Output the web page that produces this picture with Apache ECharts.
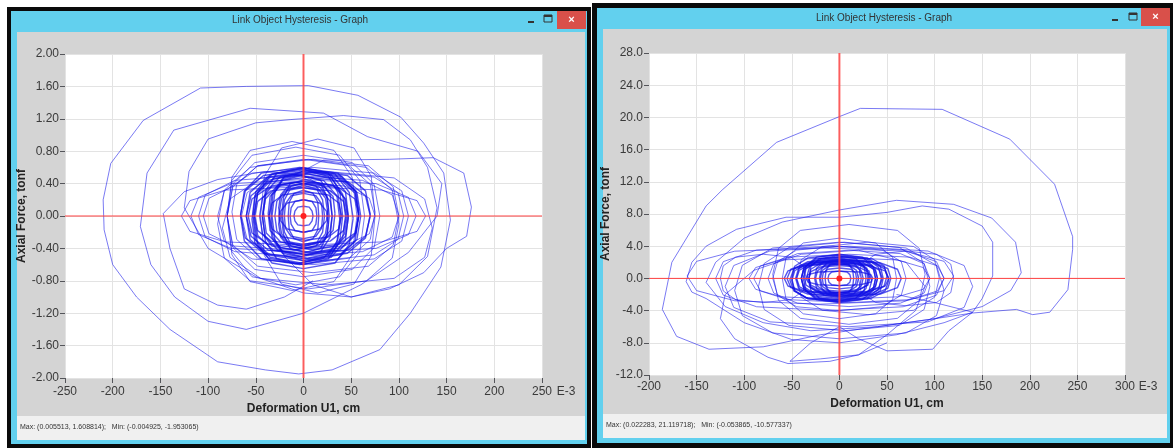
<!DOCTYPE html>
<html><head><meta charset="utf-8">
<script src="https://cdn.jsdelivr.net/npm/echarts@6/dist/echarts.min.js"></script>
<style>html,body{margin:0;padding:0;background:#fff}#c{width:1173px;height:448px}</style>
</head><body><div id="c"></div><script>
// ---------- texts ----------
const windowTitle = 'Link Object Hysteresis - Graph';
const xName = 'Deformation U1, cm';
const yName = 'Axial Force, tonf';
const xExponent = 'E-3';
const leftStatus = 'Max: (0.005513, 1.608814);   Min: (-0.004925, -1.953065)';
const rightStatus = 'Max: (0.022283, 21.119718);   Min: (-0.053865, -10.577337)';
// ---------- axis ranges [min, max, interval] ----------
const leftXRange = [-250, 250, 50];
const leftYRange = [-2, 2, 0.4];
const rightXRange = [-200, 300, 50];
const rightYRange = [-12, 28, 4];
// ---------- left chart data (x in E-3 cm, y in tonf) ----------
const leftOuterLoops = [
 [[5,1.61],[-60,1.6],[-108,1.58],[-168,1.18],[-202,0.65],[-210,0.2],[-209,-0.17],[-200,-0.6],[-175,-1.0],[-140,-1.4],[-90,-1.8],[-40,-1.9],[-5,-1.95],[30,-1.9],[80,-1.65],[112,-1.2],[144,-0.63],[154,-0.05],[147,0.53],[126,0.9],[102,1.22],[57,1.49],[5,1.61]],
 [[-56,1.33],[-136,1.06],[-164,0.53],[-171,-0.13],[-160,-0.6],[-135,-1.0],[-100,-1.3],[-60,-1.4],[0,-1.2],[60,-0.85],[110,-0.45],[140,0.0],[145,0.4],[120,0.8],[67,0.98],[21,1.27],[-56,1.33]],
 [[-100,0.95],[-50,1.15],[-14,1.19],[42,1.24],[84,1.19],[112,0.94],[130,0.6],[140,0.1],[130,-0.5],[100,-0.85],[50,-1.0],[0,-0.95],[-50,-0.75],[-100,-0.4],[-125,0.1],[-120,0.55],[-100,0.95]],
 [[10,-0.8],[-20,-1.0],[-60,-1.15],[-90,-1.1],[-125,-0.9],[-140,-0.4],[-147,0.03],[-125,0.3],[-90,0.45],[-40,0.55],[0,0.5],[30,0.3]],
 [[-20,-0.5],[10,-0.85],[50,-1.0],[90,-0.9],[126,-0.7],[150,-0.4],[171,-0.25],[176,0.11],[168,0.53],[136,0.72],[90,0.7],[21,0.69],[-10,0.5]]
];
const leftMidLoops = [
 [[80,0],[74,.39],[51,.66],[0,.75],[-51,.66],[-74,.39],[-80,0],[-74,-.39],[-51,-.66],[0,-.75],[51,-.66],[74,-.39],[80,0]],
 [[100,0],[94,.36],[68,.62],[10,.7],[-48,.62],[-74,.36],[-80,0],[-74,-.36],[-48,-.62],[10,-.7],[68,-.62],[94,-.36],[100,0]],
 [[64,0],[59,.44],[38,.75],[-8,.85],[-54,.75],[-75,.44],[-80,0],[-75,-.44],[-54,-.75],[-8,-.85],[38,-.75],[59,-.44],[64,0]],
 [[110,0],[103,.31],[74,.53],[10,.6],[-54,.53],[-83,.31],[-90,0],[-83,-.31],[-54,-.53],[10,-.6],[74,-.53],[103,-.31],[110,0]],
 [[118,0],[110,.23],[76,.40],[0,.45],[-76,.40],[-110,.23],[-118,0],[-110,-.23],[-76,-.40],[0,-.45],[76,-.40],[110,-.23],[118,0]],
 [[56,0],[51,.48],[32,.81],[-12,.92],[-56,.81],[-75,.48],[-80,0],[-75,-.48],[-56,-.81],[-12,-.92],[32,-.81],[51,-.48],[56,0]],
 [[100,-.1],[93,.32],[66,.60],[5,.70],[-56,.60],[-83,.32],[-90,-.1],[-83,-.52],[-56,-.80],[5,-.90],[66,-.80],[93,-.52],[100,-.1]],
 [[105,0],[99,.29],[74,.48],[20,.55],[-34,.48],[-59,.29],[-65,0],[-59,-.29],[-34,-.48],[20,-.55],[74,-.48],[99,-.29],[105,0]],
 [[128,0],[119,.19],[82,.32],[0,.36],[-82,.32],[-119,.19],[-128,0],[-119,-.19],[-82,-.32],[0,-.36],[82,-.32],[119,-.19],[128,0]],
 [[100,0],[93,.26],[62,.44],[-5,.5],[-72,.44],[-103,.26],[-110,0],[-103,-.26],[-72,-.44],[-5,-.5],[62,-.44],[93,-.26],[100,0]],
 [[75,0],[71,.49],[53,.84],[15,.95],[-23,.84],[-41,.49],[-45,0],[-41,-.49],[-23,-.84],[15,-.95],[53,-.84],[71,-.49],[75,0]],
 [[135,-.15],[127,.21],[95,.47],[25,.55],[-45,.47],[-77,.21],[-85,-.15],[-77,-.51],[-45,-.77],[25,-.85],[95,-.77],[127,-.51],[135,-.15]],
 [[75,0],[69,.22],[43,.37],[-15,.42],[-73,.37],[-99,.22],[-105,0],[-99,-.22],[-73,-.37],[-15,-.42],[43,-.37],[69,-.22],[75,0]],
 [[75,.05],[70,.39],[48,.62],[0,.70],[-48,.62],[-70,.39],[-75,.05],[-70,-.29],[-48,-.52],[0,-.60],[48,-.52],[70,-.29],[75,.05]]
];
const leftCoreLoops = [
 [[60,0],[56,.29],[38,.48],[0,.55],[-38,.48],[-56,.29],[-60,0],[-56,-.29],[-38,-.48],[0,-.55],[38,-.48],[56,-.29],[60,0]],
 [[58,.02],[54,.28],[38,.46],[3,.52],[-32,.46],[-48,.28],[-52,.02],[-48,-.24],[-32,-.42],[3,-.48],[38,-.42],[54,-.24],[58,.02]],
 [[47,0],[44,.30],[29,.51],[-3,.58],[-35,.51],[-50,.30],[-53,0],[-50,-.30],[-35,-.51],[-3,-.58],[29,-.51],[44,-.30],[47,0]],
 [[47,-.02],[44,.21],[31,.38],[2,.43],[-27,.38],[-40,.21],[-43,-.02],[-40,-.25],[-27,-.42],[2,-.47],[31,-.42],[44,-.25],[47,-.02]],
 [[44,0],[41,.27],[30,.46],[4,.52],[-22,.46],[-33,.27],[-36,0],[-33,-.27],[-22,-.46],[4,-.52],[30,-.46],[41,-.27],[44,0]],
 [[33,.03],[31,.24],[20,.38],[-2,.43],[-24,.38],[-35,.24],[-37,.03],[-35,-.18],[-24,-.32],[-2,-.37],[20,-.32],[31,-.18],[33,.03]],
 [[30,0],[28,.18],[19,.31],[0,.35],[-19,.31],[-28,.18],[-30,0],[-28,-.18],[-19,-.31],[0,-.35],[19,-.31],[28,-.18],[30,0]],
 [[27,0],[25,.23],[18,.40],[2,.45],[-14,.40],[-21,.23],[-23,0],[-21,-.23],[-14,-.40],[2,-.45],[18,-.40],[25,-.23],[27,0]],
 [[20,0],[19,.15],[13,.25],[0,.28],[-13,.25],[-19,.15],[-20,0],[-19,-.15],[-13,-.25],[0,-.28],[13,-.25],[19,-.15],[20,0]],
 [[14,0],[13,.10],[9,.18],[0,.2],[-9,.18],[-13,.10],[-14,0],[-13,-.10],[-9,-.18],[0,-.2],[9,-.18],[13,-.10],[14,0]],
 [[70,0],[65,.25],[47,.42],[5,.48],[-37,.42],[-55,.25],[-60,0],[-55,-.25],[-37,-.42],[5,-.48],[47,-.42],[65,-.25],[70,0]],
 [[58,0],[54,.31],[36,.53],[-4,.6],[-44,.53],[-62,.31],[-66,0],[-62,-.31],[-44,-.53],[-4,-.6],[36,-.53],[54,-.31],[58,0]],
 [[52,-.03],[48,.29],[33,.52],[0,.59],[-33,.52],[-48,.29],[-52,-.03],[-48,-.35],[-33,-.58],[0,-.65],[33,-.58],[48,-.35],[52,-.03]],
 [[41,0],[38,.31],[26,.53],[-1,.6],[-28,.53],[-40,.31],[-43,0],[-40,-.31],[-28,-.53],[-1,-.6],[26,-.53],[38,-.31],[41,0]],
 [[39,0],[36,.29],[26,.49],[3,.56],[-20,.49],[-30,.29],[-33,0],[-30,-.29],[-20,-.49],[3,-.56],[26,-.49],[36,-.29],[39,0]],
 [[58,0],[54,.21],[37,.35],[0,.4],[-37,.35],[-54,.21],[-58,0],[-54,-.21],[-37,-.35],[0,-.4],[37,-.35],[54,-.21],[58,0]],
 [[45,0],[42,.18],[28,.31],[-3,.35],[-34,.31],[-48,.18],[-51,0],[-48,-.18],[-34,-.31],[-3,-.35],[28,-.31],[42,-.18],[45,0]],
 [[30,0],[28,.26],[18,.44],[-2,.5],[-22,.44],[-32,.26],[-34,0],[-32,-.26],[-22,-.44],[-2,-.5],[18,-.44],[28,-.26],[30,0]],
 [[22,0],[20,.2],[14,.33],[0,.38],[-14,.33],[-20,.2],[-22,0],[-20,-.2],[-14,-.33],[0,-.38],[14,-.33],[20,-.2],[22,0]],
 [[70,.02],[65,.31],[46,.50],[2,.57],[-42,.50],[-61,.31],[-66,.02],[-61,-.27],[-42,-.46],[2,-.53],[46,-.46],[65,-.27],[70,.02]],
 [[10,0],[9,.06],[6,.11],[0,.12],[-6,.11],[-9,.06],[-10,0],[-9,-.06],[-6,-.11],[0,-.12],[6,-.11],[9,-.06],[10,0]],
 [[40,0],[37,.16],[26,.26],[2,.3],[-22,.26],[-33,.16],[-36,0],[-33,-.16],[-22,-.26],[2,-.3],[26,-.26],[37,-.16],[40,0]],
 [[58,.05],[55,.31],[40,.49],[8,.55],[-24,.49],[-39,.31],[-42,.05],[-39,-.21],[-24,-.39],[8,-.45],[40,-.39],[55,-.21],[58,.05]],
 [[38,-.04],[35,.25],[21,.44],[-8,.51],[-37,.44],[-51,.25],[-54,-.04],[-51,-.33],[-37,-.52],[-8,-.59],[21,-.52],[35,-.33],[38,-.04]],
 [[46,0],[43,.22],[33,.37],[10,.42],[-13,.37],[-23,.22],[-26,0],[-23,-.22],[-13,-.37],[10,-.42],[33,-.37],[43,-.22],[46,0]],
 [[26,0],[23,.22],[13,.37],[-10,.42],[-33,.37],[-43,.22],[-46,0],[-43,-.22],[-33,-.37],[-10,-.42],[13,-.37],[23,-.22],[26,0]],
 [[26,.1],[24,.26],[17,.36],[0,.4],[-17,.36],[-24,.26],[-26,.1],[-24,-.06],[-17,-.16],[0,-.2],[17,-.16],[24,-.06],[26,.1]],
 [[26,-.1],[24,.06],[17,.16],[0,.2],[-17,.16],[-24,.06],[-26,-.1],[-24,-.26],[-17,-.36],[0,-.4],[17,-.36],[24,-.26],[26,-.1]],
 [[16,0],[15,.17],[10,.28],[0,.32],[-10,.28],[-15,.17],[-16,0],[-15,-.17],[-10,-.28],[0,-.32],[10,-.28],[15,-.17],[16,0]]
];
// ---------- right chart data (x in E-3 cm, y in tonf) ----------
const rightOuterLoops = [
 [[-186,-3.85],[-176,2.0],[-140,9.0],[-123,11.0],[-66,16.9],[0,20.1],[22,21.12],[108,21.0],[179,17.3],[226,11.7],[245,5.2],[245,3.6],[240,-1.4],[221,-4.2],[203,-4.5],[186,-3.85],[140,-4.3],[95,-5.1],[40,-6.0],[-20,-7.0],[-80,-8.5],[-137,-8.8],[-171,-7.2],[-186,-3.85]],
 [[-140,4.0],[-108,6.1],[-56,7.6],[0,7.6],[50,8.2],[87,9.0],[115,8.6],[150,6.5],[161,4.5],[161,0.3],[150,-2.5],[140,-4.2],[110,-5.5],[60,-7.0],[0,-8.0],[-50,-7.6],[-100,-5.5],[-140,-2.5],[-155,-1.7],[-161,-0.4],[-155,2.0],[-140,4.0]],
 [[191,0.7],[185,4.5],[160,7.5],[120,9.2],[60,9.7],[0,8.5],[-60,7.0],[-100,5.0],[-130,2.0],[-140,-0.5],[-120,-3.5],[-80,-5.5],[-30,-6.5],[40,-6.0],[100,-5.0],[150,-3.5],[180,-1.5],[191,0.7]],
 [[60,-2],[100,-3],[140,-4.2],[115,-6.5],[98,-8.8],[50,-9.0],[20,-7.5],[0,-6.0],[-30,-8.0],[-52,-10.3],[-20,-10.0],[20,-9.5],[50,-8]],
 [[-54,-10.58],[-75,-9.8],[-110,-7.5],[-125,-5],[-120,-2],[-90,1],[-40,3],[20,3.5],[70,2],[90,-1],[80,-4],[50,-7],[20,-9.5],[-10,-10.3],[-54,-10.58]]
];
const rightMidLoops = [
 [[70,0],[65,2.08],[45,3.52],[0,4],[-45,3.52],[-65,2.08],[-70,0],[-65,-2.08],[-45,-3.52],[0,-4],[45,-3.52],[65,-2.08],[70,0]],
 [[95,0],[89,1.82],[64,3.08],[10,3.5],[-44,3.08],[-69,1.82],[-75,0],[-69,-1.82],[-44,-3.08],[10,-3.5],[64,-3.08],[89,-1.82],[95,0]],
 [[110,0],[103,1.56],[74,2.64],[10,3],[-54,2.64],[-83,1.56],[-90,0],[-83,-1.56],[-54,-2.64],[10,-3],[74,-2.64],[103,-1.56],[110,0]],
 [[60,0],[56,2.6],[38,4.4],[0,5],[-38,4.4],[-56,2.6],[-60,0],[-56,-2.6],[-38,-4.4],[0,-5],[38,-4.4],[56,-2.6],[60,0]],
 [[110,0],[102,2.08],[67,3.52],[-10,4],[-87,3.52],[-122,2.08],[-130,0],[-122,-2.08],[-87,-3.52],[-10,-4],[67,-3.52],[102,-2.08],[110,0]],
 [[95,-1],[89,1.86],[63,3.84],[5,4.5],[-53,3.84],[-79,1.86],[-85,-1],[-79,-3.86],[-53,-5.84],[5,-6.5],[63,-5.84],[89,-3.86],[95,-1]],
 [[110,-1.5],[102,1.62],[70,3.78],[0,4.5],[-70,3.78],[-102,1.62],[-110,-1.5],[-102,-4.62],[-70,-6.78],[0,-7.5],[70,-6.78],[102,-4.62],[110,-1.5]],
 [[105,0],[100,2.34],[78,3.96],[30,4.5],[-18,3.96],[-40,2.34],[-45,0],[-40,-2.34],[-18,-3.96],[30,-4.5],[78,-3.96],[100,-2.34],[105,0]],
 [[120,.3],[110,2.12],[70,3.38],[-20,3.8],[-110,3.38],[-150,2.12],[-160,.3],[-150,-1.52],[-110,-2.78],[-20,-3.2],[70,-2.78],[110,-1.52],[120,.3]],
 [[140,-1],[131,1.6],[93,3.4],[10,4],[-73,3.4],[-111,1.6],[-120,-1],[-111,-3.6],[-73,-5.4],[10,-6],[93,-5.4],[131,-3.6],[140,-1]],
 [[120,0],[117,1.77],[102,2.99],[70,3.4],[38,2.99],[23,1.77],[20,0],[23,-1.77],[38,-2.99],[70,-3.4],[102,-2.99],[117,-1.77],[120,0]],
 [[-35,0],[-38,1.56],[-51,2.64],[-80,3],[-109,2.64],[-122,1.56],[-125,0],[-122,-1.56],[-109,-2.64],[-80,-3],[-51,-2.64],[-38,-1.56],[-35,0]],
 [[90,.5],[84,3.72],[61,5.96],[10,6.7],[-41,5.96],[-64,3.72],[-70,.5],[-64,-2.72],[-41,-4.96],[10,-5.7],[61,-4.96],[84,-2.72],[90,.5]],
 [[95,0],[88,1.35],[61,2.29],[0,2.6],[-61,2.29],[-88,1.35],[-95,0],[-88,-1.35],[-61,-2.29],[0,-2.6],[61,-2.29],[88,-1.35],[95,0]]
];
const rightCoreLoops = [
 [[40,0],[37,1.3],[26,2.2],[0,2.5],[-26,2.2],[-37,1.3],[-40,0],[-37,-1.3],[-26,-2.2],[0,-2.5],[26,-2.2],[37,-1.3],[40,0]],
 [[38,0],[36,1.14],[25,1.94],[3,2.2],[-19,1.94],[-30,1.14],[-32,0],[-30,-1.14],[-19,-1.94],[3,-2.2],[25,-1.94],[36,-1.14],[38,0]],
 [[28,0],[26,1.46],[17,2.46],[-2,2.8],[-21,2.46],[-30,1.46],[-32,0],[-30,-1.46],[-21,-2.46],[-2,-2.8],[17,-2.46],[26,-1.46],[28,0]],
 [[45,0],[42,1.04],[29,1.76],[0,2],[-29,1.76],[-42,1.04],[-45,0],[-42,-1.04],[-29,-1.76],[0,-2],[29,-1.76],[42,-1.04],[45,0]],
 [[25,0],[23,.94],[16,1.58],[0,1.8],[-16,1.58],[-23,.94],[-25,0],[-23,-.94],[-16,-1.58],[0,-1.8],[16,-1.58],[23,-.94],[25,0]],
 [[18,0],[17,.68],[12,1.14],[0,1.3],[-12,1.14],[-17,.68],[-18,0],[-17,-.68],[-12,-1.14],[0,-1.3],[12,-1.14],[17,-.68],[18,0]],
 [[54,0],[51,1.2],[36,2.02],[4,2.3],[-28,2.02],[-43,1.2],[-46,0],[-43,-1.2],[-28,-2.02],[4,-2.3],[36,-2.02],[51,-1.2],[54,0]],
 [[38,0],[35,1.56],[24,2.64],[0,3],[-24,2.64],[-35,1.56],[-38,0],[-35,-1.56],[-24,-2.64],[0,-3],[24,-2.64],[35,-1.56],[38,0]],
 [[30,0],[28,1.25],[20,2.11],[2,2.4],[-16,2.11],[-24,1.25],[-26,0],[-24,-1.25],[-16,-2.11],[2,-2.4],[20,-2.11],[28,-1.25],[30,0]],
 [[52,0],[48,.94],[32,1.58],[-3,1.8],[-38,1.58],[-54,.94],[-58,0],[-54,-.94],[-38,-1.58],[-3,-1.8],[32,-1.58],[48,-.94],[52,0]],
 [[44,0],[41,1.4],[29,2.38],[2,2.7],[-25,2.38],[-37,1.4],[-40,0],[-37,-1.4],[-25,-2.38],[2,-2.7],[29,-2.38],[41,-1.4],[44,0]],
 [[32,0],[30,.83],[20,1.41],[0,1.6],[-20,1.41],[-30,.83],[-32,0],[-30,-.83],[-20,-1.41],[0,-1.6],[20,-1.41],[30,-.83],[32,0]],
 [[46,0],[43,1.51],[29,2.55],[-2,2.9],[-33,2.55],[-47,1.51],[-50,0],[-47,-1.51],[-33,-2.55],[-2,-2.9],[29,-2.55],[43,-1.51],[46,0]],
 [[65,0],[61,1.14],[43,1.94],[5,2.2],[-33,1.94],[-51,1.14],[-55,0],[-51,-1.14],[-33,-1.94],[5,-2.2],[43,-1.94],[61,-1.14],[65,0]],
 [[12,0],[11,.47],[8,.79],[0,.9],[-8,.79],[-11,.47],[-12,0],[-11,-.47],[-8,-.79],[0,-.9],[8,-.79],[11,-.47],[12,0]],
 [[31,.2],[29,1.24],[19,1.96],[-3,2.2],[-25,1.96],[-35,1.24],[-37,.2],[-35,-.84],[-25,-1.56],[-3,-1.8],[19,-1.56],[29,-.84],[31,.2]],
 [[23,0],[21,1.14],[15,1.94],[1,2.2],[-13,1.94],[-19,1.14],[-21,0],[-19,-1.14],[-13,-1.94],[1,-2.2],[15,-1.94],[21,-1.14],[23,0]],
 [[52,-.2],[48,1.15],[33,2.09],[0,2.4],[-33,2.09],[-48,1.15],[-52,-.2],[-48,-1.55],[-33,-2.49],[0,-2.8],[33,-2.49],[48,-1.55],[52,-.2]],
 [[50,.3],[47,1.55],[35,2.41],[8,2.7],[-19,2.41],[-31,1.55],[-34,.3],[-31,-.95],[-19,-1.81],[8,-2.1],[35,-1.81],[47,-.95],[50,.3]],
 [[34,-.3],[31,.95],[19,1.81],[-8,2.1],[-35,1.81],[-47,.95],[-50,-.3],[-47,-1.55],[-35,-2.41],[-8,-2.7],[19,-2.41],[31,-1.55],[34,-.3]],
 [[40,0],[38,.99],[29,1.67],[10,1.9],[-9,1.67],[-18,.99],[-20,0],[-18,-.99],[-9,-1.67],[10,-1.9],[29,-1.67],[38,-.99],[40,0]],
 [[20,0],[18,.99],[9,1.67],[-10,1.9],[-29,1.67],[-38,.99],[-40,0],[-38,-.99],[-29,-1.67],[-10,-1.9],[9,-1.67],[18,-.99],[20,0]],
 [[15,0],[14,1.04],[10,1.76],[0,2],[-10,1.76],[-14,1.04],[-15,0],[-14,-1.04],[-10,-1.76],[0,-2],[10,-1.76],[14,-1.04],[15,0]],
 [[35,0],[33,.47],[22,.79],[0,.9],[-22,.79],[-33,.47],[-35,0],[-33,-.47],[-22,-.79],[0,-.9],[22,-.79],[33,-.47],[35,0]]
];
const originPoint = [[0, 0]];

// ---------- build ----------
const chart = echarts.init(document.getElementById('c'), null, {renderer: 'canvas'});
const BLUE = 'rgba(25,25,235,0.58)';
const CORE = 'rgba(15,15,230,0.7)';
const RED = '#ff4040';
const FONT = 'Liberation Sans, Arial, sans-serif';
const LBL = {color: '#3a3a3a', fontSize: 12, fontFamily: FONT};
const NAME = {color: '#222', fontSize: 12, fontWeight: 'bold', fontFamily: FONT};

function xAxis(r, gi, gap, margin) {
  return {type: 'value', gridIndex: gi, min: r[0], max: r[1], interval: r[2],
    name: xName, nameLocation: 'middle', nameGap: gap, nameTextStyle: NAME,
    axisLine: {show: false, onZero: false},
    axisLabel: Object.assign({margin: margin, formatter: v => String(Math.round(v))}, LBL),
    splitLine: {show: true, lineStyle: {color: '#e3e3e3', width: 1}}};
}
function yAxis(r, gi, gap, dec) {
  return {type: 'value', gridIndex: gi, min: r[0], max: r[1], interval: r[2],
    name: yName, nameLocation: 'middle', nameGap: gap, nameTextStyle: NAME,
    axisLine: {show: false, onZero: false},
    axisLabel: Object.assign({margin: 6, formatter: v => Number(v).toFixed(dec)}, LBL),
    splitLine: {show: true, lineStyle: {color: '#e3e3e3', width: 1}}};
}
function lineSeries(data, gi, w, color) {
  return {type: 'line', xAxisIndex: gi, yAxisIndex: gi, data: data, symbol: 'none', showSymbol: false,
    lineStyle: {color: color, width: w}, silent: true, animation: false};
}
function crossSeries(gi, xr, yr) {
  return [
    lineSeries([[0, yr[0]], [0, yr[1]]], gi, 2, 'rgba(255,70,70,0.85)'),
    lineSeries([[xr[0], 0], [xr[1], 0]], gi, 1, RED),
    {type: 'line', xAxisIndex: gi, yAxisIndex: gi, data: originPoint, symbol: 'circle', showSymbol: true, symbolSize: 6,
      itemStyle: {color: '#ff2020'}, lineStyle: {width: 0}, silent: true, animation: false}
  ];
}
let series = [];
leftOuterLoops.forEach(l => series.push(lineSeries(l, 0, 1, BLUE)));
leftMidLoops.forEach(l => series.push(lineSeries(l, 0, 1, BLUE)));
leftCoreLoops.forEach(l => series.push(lineSeries(l, 0, 1.4, CORE)));
series = series.concat(crossSeries(0, leftXRange, leftYRange));
rightOuterLoops.forEach(l => series.push(lineSeries(l, 1, 1, BLUE)));
rightMidLoops.forEach(l => series.push(lineSeries(l, 1, 1, BLUE)));
rightCoreLoops.forEach(l => series.push(lineSeries(l, 1, 1.4, CORE)));
series = series.concat(crossSeries(1, rightXRange, rightYRange));

function windowChrome(o) {
  return [
    {type: 'rect', z: -10, shape: {x: o.bx, y: o.by, width: o.bw, height: o.bh}, style: {fill: '#0a0a0a'}},
    {type: 'rect', z: -9, shape: {x: o.cx, y: o.cy, width: o.cw, height: o.ch}, style: {fill: '#62d0ee'}},
    {type: 'rect', z: -8, shape: {x: o.gx, y: o.gy, width: o.gw, height: o.gh}, style: {fill: '#d4d4d4'}},
    {type: 'rect', z: -8, shape: {x: o.gx, y: o.sy, width: o.gw, height: o.sh}, style: {fill: '#f0f0f0'}},
    {type: 'text', z: -7, style: {text: windowTitle, x: o.tx, y: o.ty, align: 'center', verticalAlign: 'middle', fill: '#333', font: '10px ' + FONT}},
    {type: 'rect', z: -7, shape: {x: o.minx, y: o.ty + 1, width: 6, height: 2}, style: {fill: '#333'}},
    {type: 'rect', z: -7, shape: {x: o.maxx, y: o.ty - 5, width: 8, height: 7}, style: {fill: 'none', stroke: '#333', lineWidth: 1}},
    {type: 'rect', z: -7, shape: {x: o.maxx, y: o.ty - 5, width: 8, height: 2}, style: {fill: '#333'}},
    {type: 'rect', z: -7, shape: {x: o.clx, y: o.cly, width: 29, height: 18}, style: {fill: '#d9504a'}},
    {type: 'text', z: -6, style: {text: '×', x: o.clx + 14.5, y: o.cly + 9, align: 'center', verticalAlign: 'middle', fill: '#fff', font: 'bold 11px ' + FONT}},
    {type: 'text', z: -7, style: {text: o.status, x: o.gx + 3, y: o.sy + 11, align: 'left', verticalAlign: 'middle', fill: '#333', font: '7px ' + FONT}},
    {type: 'text', z: -7, style: {text: xExponent, x: o.ex, y: o.ey, align: 'center', verticalAlign: 'middle', fill: '#3a3a3a', font: '12px ' + FONT}}
  ];
}
const graphics = [].concat(
  windowChrome({bx: 7, by: 7, bw: 584, bh: 441, cx: 11, cy: 11, cw: 576, ch: 433, gx: 17, gy: 32, gw: 568, gh: 384, sy: 416, sh: 24,
    tx: 300, ty: 20, minx: 528, maxx: 544, clx: 557, cly: 11, status: leftStatus, ex: 566, ey: 392}),
  windowChrome({bx: 592, by: 3, bw: 581, bh: 445, cx: 597, cy: 8, cw: 573, ch: 435, gx: 603, gy: 29, gw: 564, gh: 385, sy: 414, sh: 24,
    tx: 884, ty: 18, minx: 1112, maxx: 1129, clx: 1141, cly: 8, status: rightStatus, ex: 1148, ey: 387})
);

chart.setOption({
  animation: false,
  backgroundColor: '#ffffff',
  grid: [
    {left: 65, top: 54, width: 477, height: 324, show: true, backgroundColor: '#ffffff', borderWidth: 0},
    {left: 649, top: 53, width: 476, height: 322, show: true, backgroundColor: '#ffffff', borderWidth: 0}
  ],
  xAxis: [xAxis(leftXRange, 0, 24, 8), xAxis(rightXRange, 1, 22, 6)],
  yAxis: [yAxis(leftYRange, 0, 28, 2), yAxis(rightYRange, 1, 20, 1)],
  graphic: {elements: graphics},
  series: series
});
</script></body></html>
